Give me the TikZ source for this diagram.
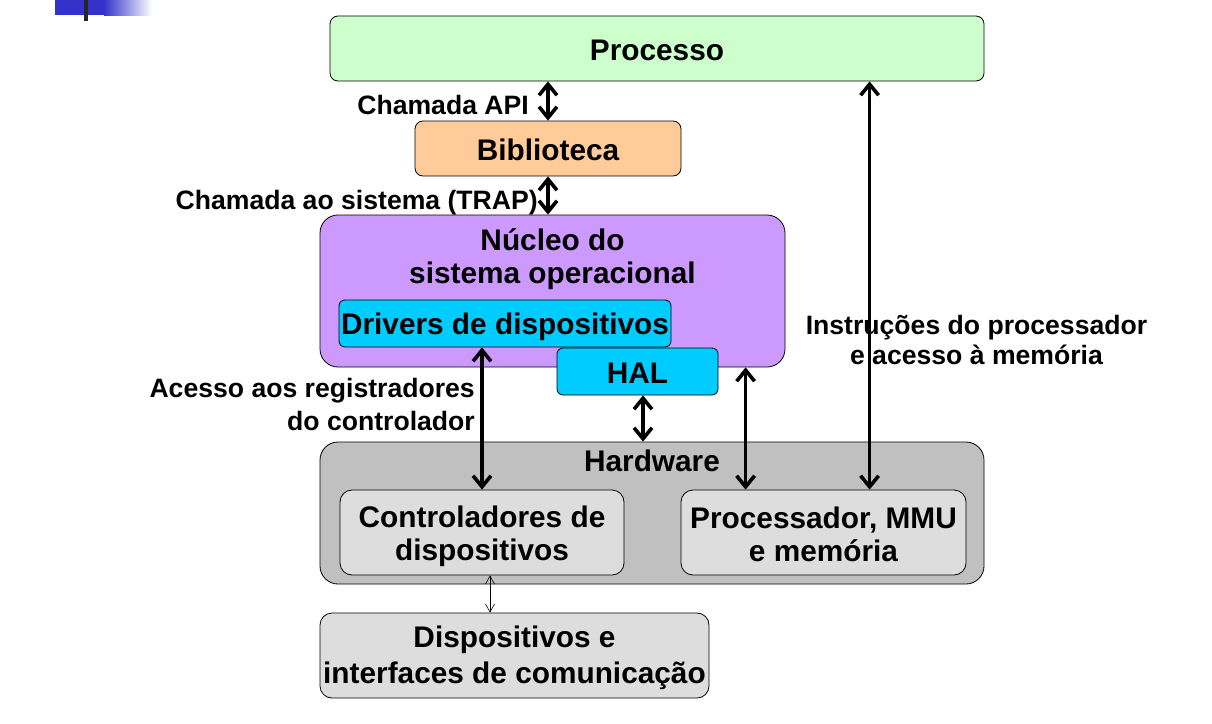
\documentclass[tikz,border=0pt]{standalone}
\usepackage{fontspec}
\setmainfont{Liberation Sans}
\usetikzlibrary{arrows.meta,calc}
\definecolor{cpro}{HTML}{CCFFCC}
\definecolor{cbib}{HTML}{FFCC99}
\definecolor{cnuc}{HTML}{CC99FF}
\definecolor{cdrv}{HTML}{00CCFF}
\definecolor{chw}{HTML}{C0C0C0}
\definecolor{cin}{HTML}{DDDDDD}
\definecolor{cdeco}{HTML}{3333CC}
\newcommand\boxfnt{\fontsize{29.8pt}{33pt}\selectfont\bfseries}
\newcommand\devfnt{\fontsize{29.8pt}{36pt}\selectfont\bfseries}
\newcommand\labfnt{\fontsize{26.6pt}{33pt}\selectfont\bfseries}
\newcommand\insfnt{\fontsize{26.6pt}{30pt}\selectfont\bfseries}
\tikzset{
  box/.style={draw=black, line width=0.8pt, rounded corners=8pt, inner sep=0pt},
  big/.style={rounded corners=18pt},
  txt/.style={inner sep=0pt, align=center, font=\boxfnt},
  lab/.style={inner sep=0pt, font=\labfnt},
  dbl/.style={line width=3.6pt, {Straight Barb[length=11pt,width=18pt]}-{Straight Barb[length=11pt,width=18pt]}},
  thin/.style={line width=0.6pt, {Straight Barb[length=8pt,width=9pt]}-{Straight Barb[length=8pt,width=9pt]}}
}
\begin{document}
\begin{tikzpicture}[x=1pt,y=-1pt]
\useasboundingbox (0,0) rectangle (1212,723);
% slide decoration
\fill[cdeco] (55,0) rectangle (104,15);
\shade[left color=cdeco, right color=white] (104,0) rectangle (152,15);
\fill[black!85] (84,0) rectangle (88,21);
% boxes
\node[box, fill=cpro, minimum width=654pt, minimum height=65pt] (pro) at (657,48.5) {};
\node[txt] (prot) at ([yshift=-2pt]pro.center) {Processo};
\node[box, fill=cbib, minimum width=266pt, minimum height=55pt] (bib) at (548,148.5) {};
\node[txt] (bibt) at ([yshift=-1pt]bib.center) {Biblioteca};
\node[box, big, fill=cnuc, minimum width=465pt, minimum height=152pt] (nuc) at (552.5,291) {};
\node[txt] (nuct) at (552.5,259.5) {Núcleo do\\sistema operacional};
\node[box, rounded corners=6pt, fill=cdrv, minimum width=332pt, minimum height=47pt] (drv) at (505,323.5) {};
\node[txt] (drvt) at ([yshift=-3.5pt]drv.center) {Drivers de dispositivos};
\node[box, rounded corners=6pt, fill=cdrv, minimum width=161pt, minimum height=47pt] (hal) at (637.5,371.5) {};
\node[txt] (halt) at ([yshift=-1.5pt]hal.center) {HAL};
\node[box, big, fill=chw, minimum width=664pt, minimum height=142pt] (hw) at (652,513) {};
\node[txt] (hwt) at (652,461) {Hardware};
\node[box, rounded corners=12pt, fill=cin, minimum width=284pt, minimum height=85pt] (ctl) at (482,532.5) {};
\node[txt] (ctlt) at ([yshift=-4pt]ctl.center) {Controladores de\\dispositivos};
\node[box, rounded corners=12pt, fill=cin, minimum width=285pt, minimum height=85pt] (proc) at (823.5,532.5) {};
\node[txt] (proct) at ([yshift=-1.5pt]proc.center) {Processador, MMU\\e memória};
\node[box, rounded corners=12pt, fill=cin, minimum width=389pt, minimum height=85pt] (dev) at (514.5,655.5) {};
\node[txt, font=\devfnt] (devt) at ([yshift=-2.5pt]dev.center) {Dispositivos e\\interfaces de comunicação};
% labels
\node[lab, anchor=east] (lapi) at (529,105) {Chamada API};
\node[lab, anchor=east] (ltrap) at (538,202.5) {Chamada ao sistema (TRAP)};
\node[lab, anchor=east, align=right] (lacc) at (475,404.5) {Acesso aos registradores\\do controlador};
\node[lab, align=center, font=\insfnt] (lins) at (976.5,339.5) {Instruções do processador\\e acesso à memória};
% connectors
\coordinate (a) at ([xshift=65pt]proc.north west);
\coordinate (b) at ([xshift=189pt]proc.north west);
\coordinate (h) at ([xshift=5.5pt]hal.south);
\coordinate (t) at ([xshift=8pt]ctl.south);
\draw[dbl] (pro.south -| bib.north) -- (bib.north);
\draw[dbl] (bib.south) -- (bib.south |- nuc.north);
\draw[dbl] (ctl.north |- drv.south) -- (ctl.north);
\draw[dbl] (h) -- (h |- hw.north);
\draw[dbl] (a |- nuc.south) -- (a);
\draw[dbl] (b |- pro.south) -- (b);
\draw[thin] (t) -- (t |- dev.north);
\end{tikzpicture}
\end{document}
